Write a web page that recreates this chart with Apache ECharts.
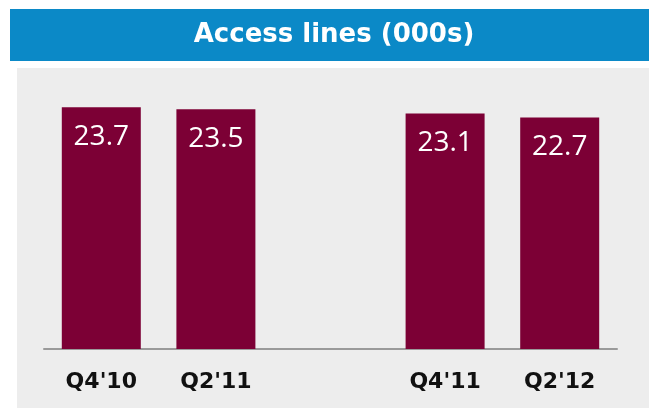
<!DOCTYPE html>
<html>
<head>
<meta charset="utf-8">
<script src="https://cdn.jsdelivr.net/npm/echarts@6/dist/echarts.min.js"></script>
<style>
  html, body { margin: 0; padding: 0; background: #fff; }
  #chart { width: 649px; height: 408px; }
</style>
</head>
<body>
<div id="chart"></div>
<script>
// the blank middle category gives the gap between the two pairs
const categories = ["Q4'10", "Q2'11", "", "Q4'11", "Q2'12"];
const accessLines = [23.7, 23.5, null, 23.1, 22.7];

const chart = echarts.init(document.getElementById("chart"));

chart.setOption({
  animation: false,
  backgroundColor: "#ffffff",
  graphic: [
    {
      type: "rect",
      shape: { x: 17, y: 68, width: 640, height: 345 },
      style: { fill: "#ededed" },
      z: -10,
    },
    {
      type: "rect",
      shape: { x: 10, y: 9, width: 645, height: 52 },
      style: { fill: "#0b89c7" },
      z: -10,
    },
    {
      type: "text",
      x: 334,
      y: 35,
      style: {
        text: "Access lines (000s)",
        fill: "#ffffff",
        font: "bold 26px 'DejaVu Sans', sans-serif",
        align: "center",
        verticalAlign: "middle",
      },
    },
  ],
  grid: {
    left: 44,
    right: 32,
    top: 94,
    bottom: 59,
  },
  xAxis: {
    type: "category",
    data: categories,
    axisLine: { lineStyle: { color: "#9a9a9a", width: 2 } },
    axisTick: { show: false },
    axisLabel: {
      color: "#111111",
      fontFamily: "DejaVu Sans",
      fontWeight: "bold",
      fontSize: 22,
      margin: 22,
    },
  },
  yAxis: {
    type: "value",
    min: 0,
    max: 25,
    show: false,
    splitLine: { show: false },
  },
  series: [
    {
      type: "bar",
      data: accessLines,
      barWidth: 79,
      itemStyle: { color: "#7c0035" },
      label: {
        show: true,
        position: "insideTop",
        distance: 16,
        color: "#ffffff",
        fontFamily: "'Open Sans', sans-serif",
        fontSize: 28,
        formatter: (p) => p.value.toFixed(1),
      },
    },
  ],
});
</script>
</body>
</html>
